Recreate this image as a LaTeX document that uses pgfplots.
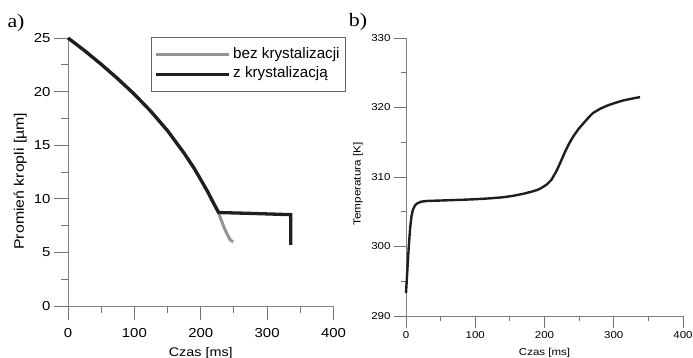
\documentclass[border=0pt]{standalone}
\usepackage{pgfplots}
\pgfplotsset{compat=1.18}
\usepackage{fontspec}
\setmainfont{Liberation Sans}[FakeStretch=1.15]
\newfontfamily\panelfont{Liberation Serif}[FakeStretch=1.15]
\newfontfamily\legfont{Liberation Sans}
\pgfplotsset{myax/.style={
  scale only axis,
  axis x line=bottom, axis y line=left,
  axis line style={-, draw=black!50, line width=1pt},
  tick align=outside,
  every tick/.style={draw=black!55, line width=0.9pt},
  minor tick num=1,
  /pgf/number format/assume math mode=true,
  clip=false,
}}
\begin{document}
\begin{tikzpicture}[x=1pt,y=1pt]
\useasboundingbox (0,0) rectangle (693,-358);
\node[font=\panelfont\fontsize{19}{19}\selectfont] at (16,-23) {a)};
\node[font=\panelfont\fontsize{19}{19}\selectfont] at (358,-22) {b)};
% ---------- left panel ----------
\begin{axis}[myax,
  at={(68pt,-306pt)}, anchor=south west,
  width=265.5pt, height=268pt,
  xmin=0, xmax=400, ymin=0, ymax=25,
  xtick={0,100,200,300,400}, ytick={0,5,10,15,20,25},
  major tick length=14pt, minor tick length=7pt,
  tick label style={font=\fontsize{13}{15}\selectfont},
  xticklabel style={yshift=-5pt},
  xlabel={Czas [ms]}, ylabel={Promień kropli [µm]},
  xlabel style={font=\fontsize{12.5}{14}\selectfont, at={(axis description cs:0.5,-0.1866)}, anchor=base},
  ylabel style={font=\fontsize{13.8}{16}\selectfont, at={(axis description cs:-0.18,0.466)}, anchor=center},
  legend cell align=left,
  legend image code/.code={\draw[#1] (0pt,0pt) -- (73pt,0pt);},
  legend style={at={(0.3126,1.0037)}, anchor=north west, draw=black!60, line width=0.8pt,
    font=\legfont\fontsize{15.2}{17}\selectfont, inner xsep=3pt, inner ysep=7.5pt,
    nodes={inner sep=2.5pt, text height=11pt, text depth=3.5pt}, column sep=0pt},
]
\addplot[black!42, line width=3pt] coordinates {
(0,25.00) (10,24.53) (25,23.82) (50,22.55) (75,21.20) (100,19.75) (125,18.15)
(150,16.35) (175,14.25) (190,12.85) (200,11.79) (210,10.71)
(220,9.51) (226,8.80) (231,8.00) (235,7.35) (239,6.80) (244,6.20) (247,6.05) (249,6.00)
};
\addlegendentry{bez krystalizacji}
\addplot[black!88, line width=3.3pt] coordinates {
(0,25.00) (10,24.53) (25,23.82) (50,22.55) (75,21.20) (100,19.75) (125,18.15)
(150,16.35) (175,14.25) (190,12.85) (200,11.79) (210,10.71)
(220,9.51) (227,8.72) (280,8.63) (335.5,8.52) (335.5,5.70)
};
\addlegendentry{z krystalizacją}
\end{axis}
% ---------- right panel ----------
\begin{axis}[myax,
  at={(406pt,-316pt)}, anchor=south west,
  width=277pt, height=278pt,
  xmin=0, xmax=400, ymin=290, ymax=330,
  xtick={0,100,200,300,400}, ytick={290,300,310,320,330},
  major tick length=12pt, minor tick length=5pt,
  tick label style={font=\fontsize{10}{12}\selectfont},
  xlabel={Czas [ms]}, ylabel={Temperatura [K]},
  xlabel style={font=\fontsize{10}{12}\selectfont, at={(axis description cs:0.5,-0.142)}, anchor=base},
  ylabel style={font=\fontsize{10.2}{12}\selectfont, at={(axis description cs:-0.173,0.475)}, anchor=center},
]
\addplot[black!88, line width=2.4pt] coordinates {
(0,293.3) (2,296.7) (4,300.0) (6,302.7) (8,304.4) (10,305.3) (13,305.9) (16,306.2)
(22,306.45) (30,306.55) (45,306.6) (60,306.65) (80,306.72) (100,306.8) (120,306.92)
(140,307.08) (155,307.3) (170,307.6) (180,307.85) (190,308.15) (196,308.45) (203,308.9)
(210,309.6) (217,310.8) (223,312.1) (230,313.7) (236,314.9) (242,315.9) (249,316.9)
(256,317.7) (263,318.5) (270,319.2) (280,319.8) (290,320.25) (300,320.6) (313,321.0)
(325,321.25) (338,321.5)
};
\end{axis}
\end{tikzpicture}
\end{document}
